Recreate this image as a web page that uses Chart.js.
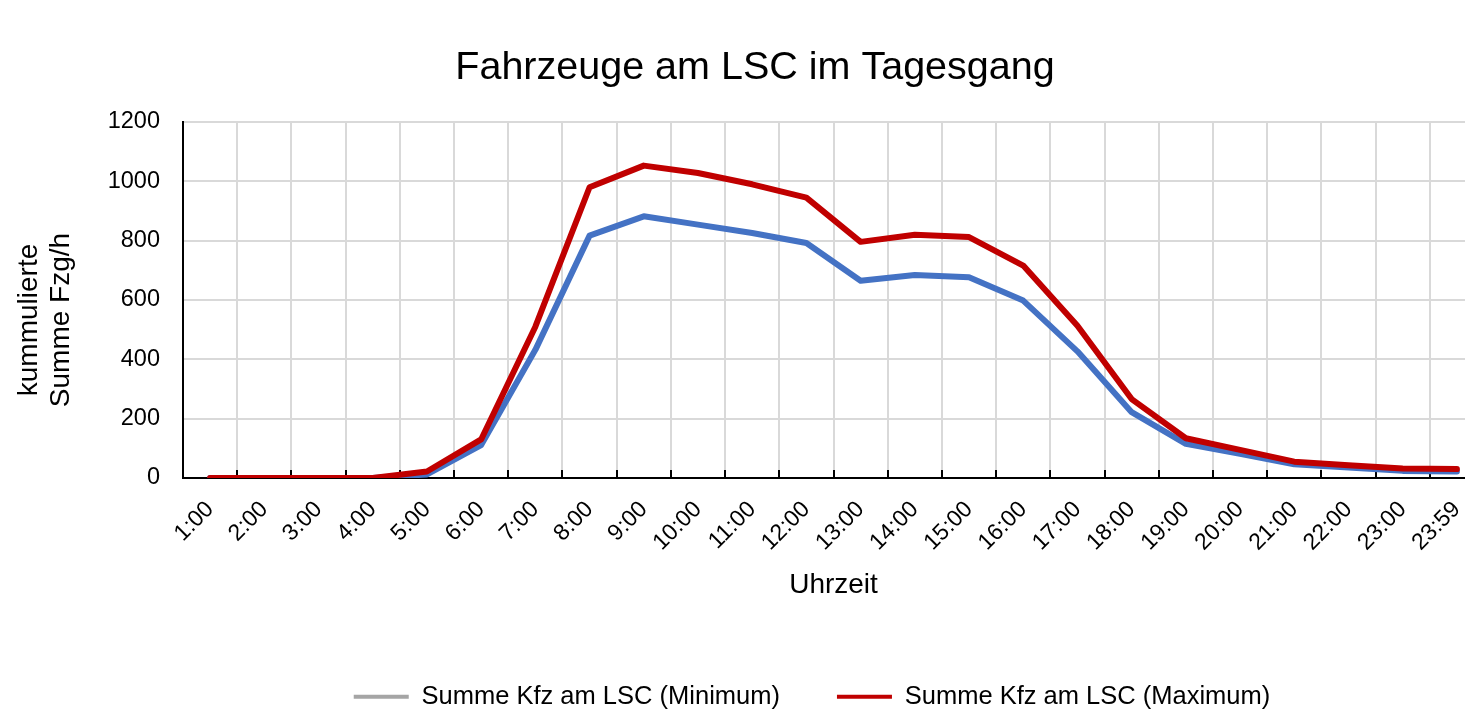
<!DOCTYPE html>
<html>
<head>
<meta charset="utf-8">
<script src="https://cdn.jsdelivr.net/npm/chart.js@4/dist/chart.umd.min.js"></script>
<style>
  html, body { margin: 0; padding: 0; background: #fff; overflow: hidden; }
  #wrap { width: 1500px; height: 712px; }
</style>
</head>
<body>
<div id="wrap"><canvas id="c" width="1500" height="712"></canvas></div>
<script>
// ---- data ----
const categories = ['1:00','2:00','3:00','4:00','5:00','6:00','7:00','8:00','9:00','10:00','11:00','12:00',
  '13:00','14:00','15:00','16:00','17:00','18:00','19:00','20:00','21:00','22:00','23:00','23:59'];
const minValues = [0,0,0,0,12,111,432,817,882,854,826,792,665,684,677,598,427,222,115,82,46,35,24,22];
const maxValues = [0,0,0,0,22,130,510,980,1053,1028,990,945,796,820,812,716,513,266,134,95,55,43,32,30];
const yTicks = [0,200,400,600,800,1000,1200];
const titleText = 'Fahrzeuge am LSC im Tagesgang';
const xTitle = 'Uhrzeit';
const yTitle = ['kummulierte', 'Summe Fzg/h'];
const legendLabels = ['Summe Kfz am LSC (Minimum)', 'Summe Kfz am LSC (Maximum)'];

const FONT = "'Liberation Sans', Arial, sans-serif";
const RED = '#C00000', BLUE = '#4472C4', GRAY = '#A5A5A5', GRID = '#D9D9D9';

function patch(obj, method, dx, dy) {
  if (!obj || obj['_p_' + method]) return;
  const orig = obj[method];
  obj[method] = function (...a) {
    const ctx = this.ctx;
    ctx.save(); ctx.translate(dx, dy);
    const r = orig.apply(this, a);
    ctx.restore();
    return r;
  };
  obj['_p_' + method] = true;
}

const shiftPlugin = {
  id: 'shift',
  afterLayout(chart) {
    patch(chart.titleBlock, 'draw', 13, 0);
    patch(chart.legend, 'draw', 70, 0);
    patch(chart.scales.y, 'drawTitle', 0, 20);
  }
};

const innerTicks = {
  id: 'innerTicks',
  beforeDatasetsDraw(chart) {
    const s = chart.scales.x, ctx = chart.ctx, b = chart.chartArea.bottom;
    ctx.save();
    ctx.strokeStyle = '#000'; ctx.lineWidth = 2;
    ctx.beginPath();
    for (let i = 0; i <= categories.length; i++) {
      const x = Math.round(s.getPixelForValue(i - 0.5));
      ctx.moveTo(x, b - 8); ctx.lineTo(x, b);
    }
    ctx.stroke();
    ctx.restore();
  }
};

new Chart(document.getElementById('c'), {
  type: 'line',
  data: {
    labels: categories,
    datasets: [
      { label: legendLabels[1], data: maxValues, borderColor: RED, backgroundColor: RED, order: 0 },
      { label: legendLabels[0], data: minValues, borderColor: BLUE, backgroundColor: BLUE, order: 1 }
    ]
  },
  options: {
    responsive: false,
    animation: false,
    devicePixelRatio: 1,
    layout: { padding: { left: 0, right: 16, top: 0, bottom: 0 } },
    elements: {
      line: { borderWidth: 6, tension: 0, borderCapStyle: 'round', borderJoinStyle: 'round' },
      point: { radius: 0, hoverRadius: 0 }
    },
    plugins: {
      title: {
        display: true, text: titleText, color: '#000',
        font: { family: FONT, size: 39.5, weight: 'normal', lineHeight: 1.2 },
        padding: { top: 44, bottom: 30.6 }
      },
      legend: {
        position: 'bottom',
        maxHeight: 85,
        labels: {
          font: { family: FONT, size: 25.5 },
          color: '#000',
          boxWidth: 55, boxHeight: 4, padding: 57,
          generateLabels() {
            return [
              { text: legendLabels[0], fillStyle: GRAY, strokeStyle: GRAY, lineWidth: 0, hidden: false, datasetIndex: 1 },
              { text: legendLabels[1], fillStyle: RED, strokeStyle: RED, lineWidth: 0, hidden: false, datasetIndex: 0 }
            ];
          }
        }
      },
      tooltip: { enabled: false }
    },
    scales: {
      x: {
        type: 'category',
        offset: true,
        grid: { offset: true, color: GRID, lineWidth: 2, drawTicks: false },
        border: { color: '#000', width: 2 },
        ticks: {
          autoSkip: false, maxRotation: 45, minRotation: 45,
          color: '#000', padding: 18,
          font: { family: FONT, size: 23 }
        },
        title: {
          display: true, text: xTitle, color: '#000',
          font: { family: FONT, size: 28, lineHeight: 1.2 },
          padding: { top: 0, bottom: 25 }
        },
        afterFit(s) { s.height = 149; }
      },
      y: {
        min: 0, max: 1200,
        afterBuildTicks(s) { s.ticks = yTicks.map(v => ({ value: v })); },
        grid: { color: GRID, lineWidth: 2, drawTicks: false },
        border: { color: '#000', width: 2 },
        ticks: {
          color: '#000', padding: 23, font: { family: FONT, size: 23.5 },
          callback: (v) => String(v)
        },
        title: {
          display: true, text: yTitle, color: '#000',
          font: { family: FONT, size: 28, lineHeight: 1.15 },
          padding: { top: 13, bottom: 0 }
        },
        afterFit(s) { s.width = 183; }
      }
    }
  },
  plugins: [shiftPlugin, innerTicks]
});
</script>
</body>
</html>
